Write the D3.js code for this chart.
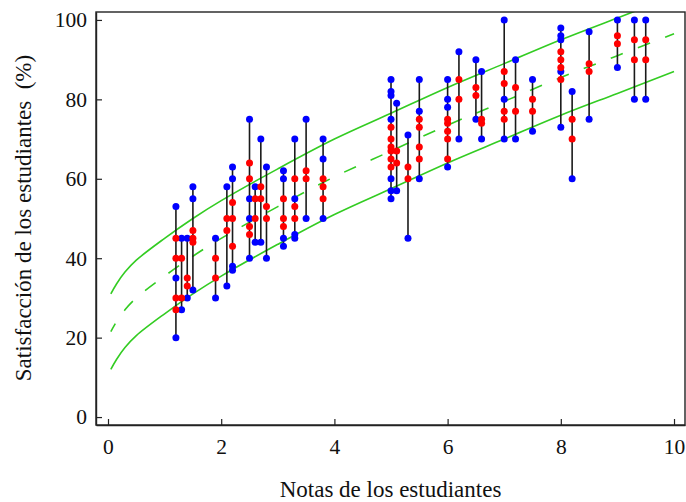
<!DOCTYPE html>
<html lang="es">

<head>
  <meta charset="UTF-8">
  <title>Satisfaccion vs notas</title>
  <script src="https://d3js.org/d3.v7.min.js"></script>
  <style>
    body { margin: 0; background: #fff; }
    text { font-family: "Liberation Serif", "Times New Roman", serif; fill: #111; }
  </style>
</head>

<body>
  <svg id="chart" width="686" height="502"></svg>
  <script>
    // notas (x) of each column, with blue and red readings of satisfaction (%)
    let notas = [1.2, 1.3, 1.4, 1.5, 1.9, 2.1, 2.2, 2.5, 2.6, 2.7, 2.8, 3.1, 3.3, 3.5, 3.8,
      5.0, 5.1, 5.3, 5.5, 6.0, 6.2, 6.5, 6.6, 7.0, 7.2, 7.5, 8.0, 8.2, 8.5, 9.0, 9.3, 9.5];

    let azules = [
      [53, 35, 20], [45, 27], [45, 30], [58, 55, 32], [45, 30], [58, 33], [63, 60, 38, 37],
      [75, 55, 50, 40], [58, 44], [70, 44], [63, 40], [62, 60, 45, 43], [70, 55, 46, 45],
      [75, 50], [70, 65, 50],
      [85, 82, 81, 75, 60, 57, 55], [79, 57], [71, 45], [85, 77, 60], [85, 80, 78, 63],
      [92, 70], [90, 75], [87, 70], [100, 80, 70], [90, 70], [85, 72],
      [98, 96, 95, 87, 73], [82, 60], [97, 75], [100, 88], [100, 80], [100, 80]
    ];

    let rojos = [
      [45, 40, 30, 27], [40, 30], [35, 33], [47, 45, 44], [40, 35], [50, 47], [54, 50, 43],
      [64, 60, 48, 46], [55, 50], [58, 55], [53, 50], [55, 50, 48], [60, 53, 50],
      [62, 60], [60, 58, 55],
      [73, 70, 68, 67, 65, 63], [67, 64], [63, 60], [75, 73, 68, 65], [75, 74, 72, 70, 65],
      [85, 80], [83, 81], [75, 74], [87, 84, 77, 75], [83, 77], [80, 77],
      [92, 90, 88, 85], [75, 70], [89, 87], [96, 94], [95, 90], [95, 90]
    ];

    // green curves
    let curvaX = [0.05, 0.15, 0.3, 0.5, 1, 1.5, 2, 3, 4, 5, 6, 7, 8, 9, 10];
    let curvaSup = [31.0, 33.5, 36.5, 39.5, 45.0, 50.0, 54.5, 62.5, 70.0, 76.5, 83.0, 89.0, 95.0, 100.5, 106.0];
    let curvaMed = [21.5, 24.0, 27.0, 30.0, 35.5, 40.5, 45.0, 53.0, 60.5, 67.0, 73.5, 79.5, 85.5, 91.0, 96.5];
    let curvaInf = [12.0, 14.5, 17.5, 20.5, 26.0, 31.0, 35.5, 43.5, 51.0, 57.5, 64.0, 70.0, 76.0, 81.5, 87.0];

    let xTicks = [0, 2, 4, 6, 8, 10];
    let yTicks = [0, 20, 40, 60, 80, 100];

    let mLeft = 96, mRight = 685, mTop = 12, mBottom = 425;

    let x = d3.scaleLinear().domain([-0.212, 10.194]).range([mLeft, mRight]);
    let y = d3.scaleLinear().domain([-2.0, 102.0]).range([mBottom, mTop]);

    let svg = d3.select('#chart');

    svg.append('defs').append('clipPath')
      .attr('id', 'clip')
      .append('rect')
      .attr('x', mLeft).attr('y', mTop)
      .attr('width', mRight - mLeft).attr('height', mBottom - mTop);

    // curves
    let line = d3.line()
      .x(function (d) { return x(d[0]); })
      .y(function (d) { return y(d[1]); })
      .curve(d3.curveCatmullRom.alpha(0.5));

    let curvas = [
      { vals: curvaSup, dash: null },
      { vals: curvaMed, dash: '13,16' },
      { vals: curvaInf, dash: null }
    ];

    svg.append('g')
      .attr('clip-path', 'url(#clip)')
      .selectAll('path')
      .data(curvas)
      .join('path')
      .attr('d', function (c) { return line(d3.zip(curvaX, c.vals)); })
      .attr('fill', 'none')
      .attr('stroke', '#33cc22')
      .attr('stroke-width', 1.6)
      .attr('stroke-dasharray', function (c) { return c.dash; })
      .attr('stroke-dashoffset', 4);

    // vertical ranges
    let columnas = notas.map(function (n, i) {
      let todos = azules[i].concat(rojos[i]);
      return { x: n, lo: d3.min(todos), hi: d3.max(todos) };
    });

    svg.append('g')
      .selectAll('line')
      .data(columnas)
      .join('line')
      .attr('x1', function (d) { return x(d.x); })
      .attr('x2', function (d) { return x(d.x); })
      .attr('y1', function (d) { return y(d.lo); })
      .attr('y2', function (d) { return y(d.hi); })
      .attr('stroke', '#1a1a1a')
      .attr('stroke-width', 1.6);

    function puntos(lista, color) {
      let pts = [];
      notas.forEach(function (n, i) {
        lista[i].forEach(function (v) { pts.push([n, v]); });
      });
      svg.append('g')
        .selectAll('circle')
        .data(pts)
        .join('circle')
        .attr('cx', function (d) { return x(d[0]); })
        .attr('cy', function (d) { return y(d[1]); })
        .attr('r', 3.5)
        .attr('fill', color);
    }
    puntos(azules, '#0000ff');
    puntos(rojos, '#ff0000');

    // frame
    svg.append('rect')
      .attr('x', mLeft).attr('y', mTop)
      .attr('width', mRight - mLeft).attr('height', mBottom - mTop)
      .attr('fill', 'none')
      .attr('stroke', '#222')
      .attr('stroke-width', 1.4);

    let axisB = d3.axisBottom(x).tickValues(xTicks).tickSizeInner(-6).tickSizeOuter(0).tickPadding(14);
    let axisL = d3.axisLeft(y).tickValues(yTicks).tickSizeInner(-6).tickSizeOuter(0).tickPadding(9);

    let gB = svg.append('g').attr('transform', 'translate(0,' + mBottom + ')').call(axisB);
    let gL = svg.append('g').attr('transform', 'translate(' + mLeft + ',0)').call(axisL);

    [gB, gL].forEach(function (g) {
      g.attr('font-family', 'Liberation Serif').attr('font-size', 21.5);
      g.select('.domain').attr('stroke', '#222').attr('stroke-width', 1.4);
      g.selectAll('.tick line').attr('stroke', '#222').attr('stroke-width', 1.2);
      g.selectAll('.tick text').attr('fill', '#111');
    });

    svg.append('text')
      .attr('x', (mLeft + mRight) / 2)
      .attr('y', 497)
      .attr('text-anchor', 'middle')
      .style('font-size', '23px')
      .text('Notas de los estudiantes');

    svg.append('text')
      .attr('transform', 'translate(31,218) rotate(-90)')
      .attr('text-anchor', 'middle')
      .style('font-size', '23px')
      .style('white-space', 'pre')
      .text('Satisfacción de los estudiantes  (%)');
  </script>
</body>

</html>
